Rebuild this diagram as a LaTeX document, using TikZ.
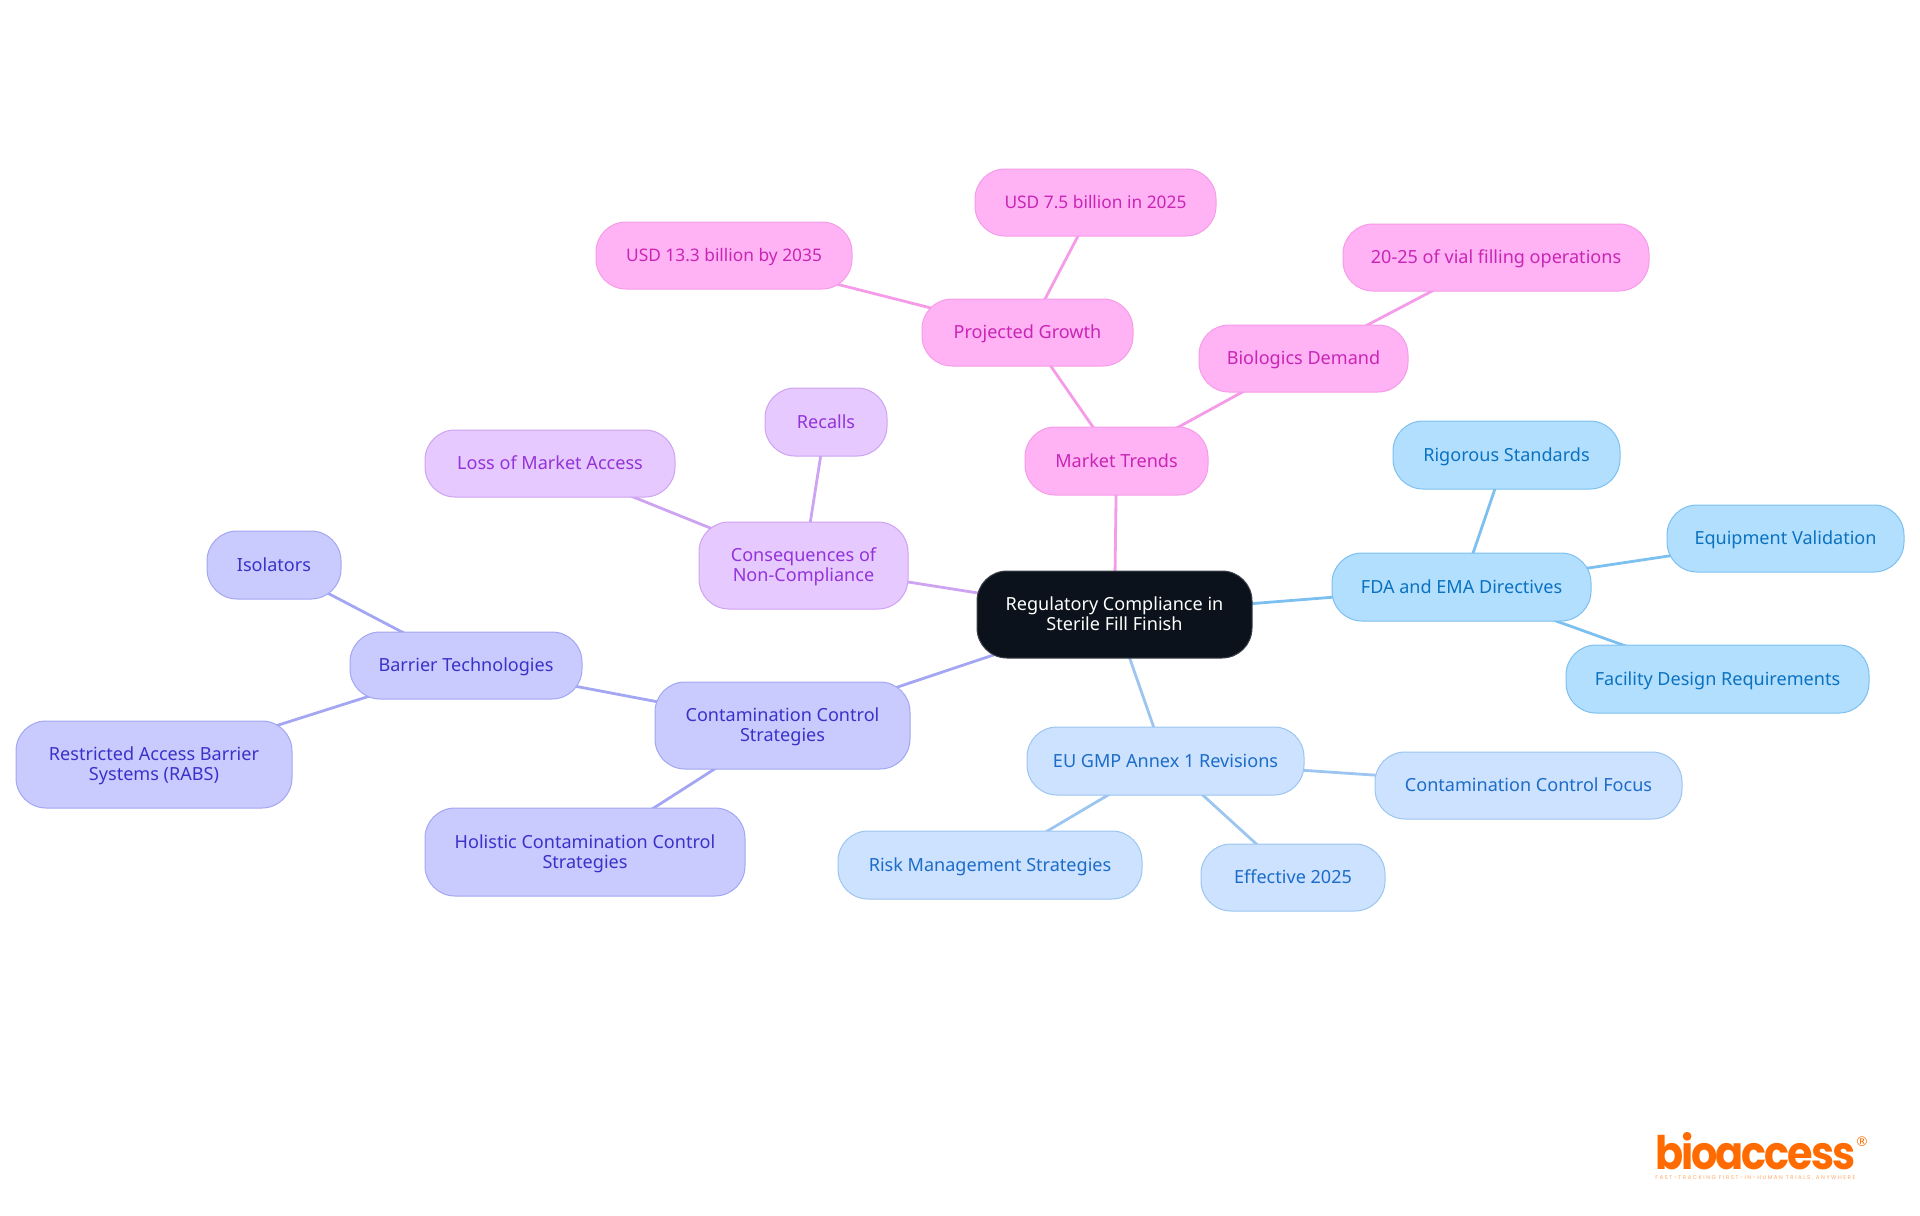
\documentclass[tikz,border=0pt]{standalone}
\usepackage{fontspec}
\usepackage{graphicx}
\setmainfont{Noto Sans}
\newfontfamily\logofont[LetterSpace=-5]{Poppins}
\newfontfamily\regfont{DejaVu Sans}
\newfontfamily\tagfont[LetterSpace=28]{Poppins}
\usetikzlibrary{backgrounds}
\definecolor{pkF}{HTML}{FFB3F5}\definecolor{pkD}{HTML}{F59BE8}\definecolor{pkT}{HTML}{C925B5}
\definecolor{puF}{HTML}{E6C9FF}\definecolor{puD}{HTML}{CDA3F2}\definecolor{puT}{HTML}{9333D8}
\definecolor{inF}{HTML}{C9CBFF}\definecolor{inD}{HTML}{A3A6F2}\definecolor{inT}{HTML}{3A32C8}
\definecolor{euF}{HTML}{CCE2FF}\definecolor{euD}{HTML}{9CC5F0}\definecolor{euT}{HTML}{1C6CC8}
\definecolor{skF}{HTML}{B3DFFF}\definecolor{skD}{HTML}{7CC0F0}\definecolor{skT}{HTML}{0B72C0}
\definecolor{rootF}{HTML}{0B121B}\definecolor{logoC}{HTML}{FF6B00}
\tikzset{
  x=0.75pt,y=-0.75pt,
  box/.style={rounded corners=22.5pt,line width=0.75pt,inner sep=0pt,align=center,
    font=\fontsize{13.55pt}{15pt}\selectfont},
  pk/.style={box,fill=pkF,draw=pkD,text=pkT},
  pu/.style={box,fill=puF,draw=puD,text=puT},
  ind/.style={box,fill=inF,draw=inD,text=inT},
  eu/.style={box,fill=euF,draw=euD,text=euT},
  sk/.style={box,fill=skF,draw=skD,text=skT},
  rootbox/.style={box,fill=rootF,draw=rootF!80!white,text=white},
  numsize/.style={font=\fontsize{13pt}{15pt}\selectfont},
  link/.style={line width=2.1pt},
  pkL/.style={link,draw=pkD},puL/.style={link,draw=puD},inL/.style={link,draw=inD},
  euL/.style={link,draw=euD},skL/.style={link,draw=skD},
}
% name, x0, y0, x1, y1, style, text
\newcommand{\pnode}[7]{%
  \pgfmathsetmacro{\pw}{(#4-#2)*0.75}\pgfmathsetmacro{\ph}{(#5-#3)*0.75}%
  \node[#6,minimum width=\pw pt,minimum height=\ph pt] (#1) at ({(#2+#4)/2},{(#3+#5)/2}) {\rule{0pt}{12.5pt}#7\rule[-3.5pt]{0pt}{3.5pt}};}
\begin{document}
\begin{tikzpicture}
\useasboundingbox (0,0) rectangle (1920,1215);
\pnode{root}{977}{571}{1252}{658}{rootbox}{Regulatory Compliance in\\Sterile Fill Finish}
\pnode{mt}{1025}{427}{1208}{495}{pk}{Market Trends}
\pnode{pg}{922}{299}{1133}{366}{pk}{Projected Growth}
\pnode{usdA}{975}{169}{1216}{236}{pk,numsize}{USD 7.5 billion in 2025}
\pnode{usdB}{596}{222}{852}{289}{pk,numsize}{USD 13.3 billion by 2035}
\pnode{bd}{1199}{325}{1408}{392}{pk}{Biologics Demand}
\pnode{vial}{1343}{224}{1649}{291}{pk}{20-25 of vial filling operations}
\pnode{fda}{1332}{553}{1591}{621}{sk}{FDA and EMA Directives}
\pnode{rig}{1393}{421}{1620}{489}{sk}{Rigorous Standards}
\pnode{eqv}{1667}{505}{1904}{572}{sk}{Equipment Validation}
\pnode{fac}{1566}{645}{1869}{713}{sk}{Facility Design Requirements}
\pnode{gmp}{1027}{727}{1304}{795}{eu}{EU GMP Annex 1 Revisions}
\pnode{ccf}{1375}{752}{1682}{819}{eu}{Contamination Control Focus}
\pnode{eff}{1201}{844}{1385}{911}{eu}{Effective 2025}
\pnode{risk}{838}{831}{1142}{899}{eu}{Risk Management Strategies}
\pnode{ccs}{655}{682}{910}{769}{ind}{Contamination Control\\Strategies}
\pnode{bar}{350}{632}{582}{699}{ind}{Barrier Technologies}
\pnode{iso}{207}{531}{341}{599}{ind}{Isolators}
\pnode{rabs}{16}{721}{292}{808}{ind}{Restricted Access Barrier\\Systems (RABS)}
\pnode{hol}{425}{808}{745}{896}{ind}{Holistic Contamination Control\\Strategies}
\pnode{con}{699}{522}{908}{609}{pu}{Consequences of\\Non-Compliance}
\pnode{loss}{425}{430}{675}{497}{pu}{Loss of Market Access}
\pnode{rec}{765}{388}{887}{456}{pu}{Recalls}
\node[text=logoC,anchor=base west,inner sep=0pt] (logo) at (1655,1169) {\resizebox{150pt}{27.75pt}{\logofont\bfseries bioaccess}};
\node[text=logoC,anchor=center,inner sep=0pt,font=\regfont\fontsize{10pt}{10pt}\selectfont] (reg) at (1862,1142) {®};
\node[text=logoC!60!white,anchor=base west,inner sep=0pt] (tag) at (1655,1179) {\resizebox{150pt}{!}{\tagfont\fontsize{4pt}{4pt}\selectfont FAST-TRACKING FIRST-IN-HUMAN TRIALS, ANYWHERE}};
\begin{scope}[on background layer]
\draw[pkL] (root.center)--(mt.center);
\draw[pkL] (mt.center)--(pg.center);
\draw[pkL] (pg.center)--(usdA.center);
\draw[pkL] (pg.center)--(usdB.center);
\draw[pkL] (mt.center)--(bd.center);
\draw[pkL] (bd.center)--(vial.center);
\draw[skL] (root.center)--(fda.center);
\draw[skL] (fda.center)--(rig.center);
\draw[skL] (fda.center)--(eqv.center);
\draw[skL] (fda.center)--(fac.center);
\draw[euL] (root.center)--(gmp.center);
\draw[euL] (gmp.center)--(ccf.center);
\draw[euL] (gmp.center)--(eff.center);
\draw[euL] (gmp.center)--(risk.center);
\draw[inL] (root.center)--(ccs.center);
\draw[inL] (ccs.center)--(bar.center);
\draw[inL] (bar.center)--(iso.center);
\draw[inL] (bar.center)--(rabs.center);
\draw[inL] (ccs.center)--(hol.center);
\draw[puL] (root.center)--(con.center);
\draw[puL] (con.center)--(loss.center);
\draw[puL] (con.center)--(rec.center);
\end{scope}
\end{tikzpicture}
\end{document}
